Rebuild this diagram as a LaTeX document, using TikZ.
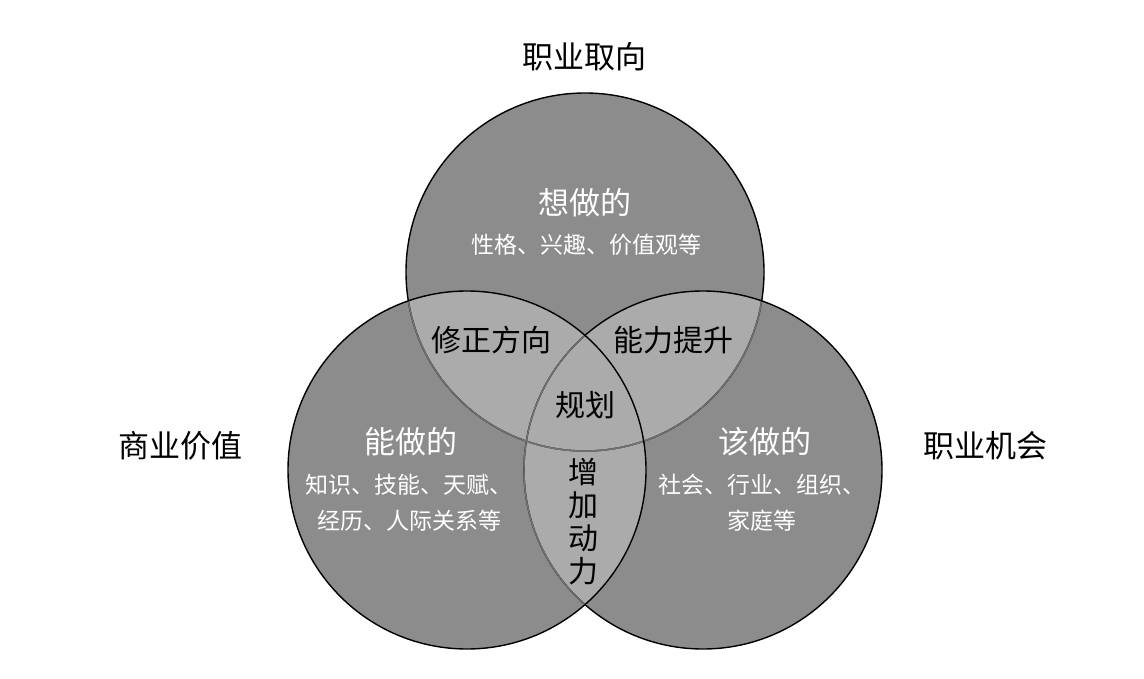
\documentclass[tikz,border=0pt]{standalone}
\usepackage{fontspec}
\newfontfamily\cjk{Noto Sans CJK SC}
\usetikzlibrary{positioning}
\definecolor{ringgray}{HTML}{8C8C8C}
\definecolor{lapgray}{HTML}{ABABAB}
\definecolor{seamgray}{HTML}{727272}

\begin{document}
\begin{tikzpicture}[x=1pt, y=-1pt,
	rim/.style={draw=black, line width=1.4pt},
	seam/.style={draw=seamgray, line width=1.4pt},
	title/.style={font=\cjk\fontsize{31}{31}\selectfont, text=black, inner sep=0pt},
	lap/.style={font=\cjk\fontsize{30}{33}\selectfont, text=black, inner sep=0pt, align=center},
	head/.style={font=\cjk\fontsize{31}{31}\selectfont, text=white, inner sep=0pt},
	note/.style={font=\cjk\fontsize{23}{36}\selectfont, text=white, inner sep=0pt, align=center}]
	\useasboundingbox (0,0) rectangle (1144,679);
	\def\ringr{179pt}
	\coordinate (cw) at (585,272);
	\coordinate (cc) at (467,470);
	\coordinate (cs) at (703,470);
	% circles and overlaps
	\foreach \c in {cw,cc,cs}
		\fill[ringgray] (\c) circle (\ringr);
	\begin{scope}
		\clip (cw) circle (\ringr);
		\fill[lapgray] (cc) circle (\ringr);
		\fill[lapgray] (cs) circle (\ringr);
	\end{scope}
	\begin{scope}
		\clip (cc) circle (\ringr);
		\fill[lapgray] (cs) circle (\ringr);
	\end{scope}
	% outlines
	\draw[rim] (cw) circle (\ringr);
	\begin{scope}
		\clip (cs) circle (\ringr);
		\draw[seam] (cw) circle (\ringr);
	\end{scope}
	\draw[rim] (cs) circle (\ringr);
	\begin{scope}
		\clip (cc) circle (\ringr);
		\draw[seam] (cw) circle (\ringr);
		\draw[seam] (cs) circle (\ringr);
	\end{scope}
	\draw[rim] (cc) circle (\ringr);
	% labels
	\node[title] (career) at (584,57) {职业取向};
	\node[title] (value) at (180,446) {商业价值};
	\node[title] (chance) at (985,446) {职业机会};
	\node[head] (want) at (585,203) {想做的};
	\node[note] (wantnote) at (586,245) {性格、兴趣、价值观等};
	\node[head] (can) at (411,442) {能做的};
	\node[note] (cannote) at (409,503) {知识、技能、天赋、\\经历、人际关系等};
	\node[head] (should) at (765,442) {该做的};
	\node[note] (shouldnote) at (762,503) {社会、行业、组织、\\家庭等};
	\node[lap] (fix) at (491,340) {修正方向};
	\node[lap] (boost) at (673,340) {能力提升};
	\node[lap] (plan) at (585,405) {规划};
	\node[lap] (drive) at (583,522) {增\\加\\动\\力};
\end{tikzpicture}
\end{document}
